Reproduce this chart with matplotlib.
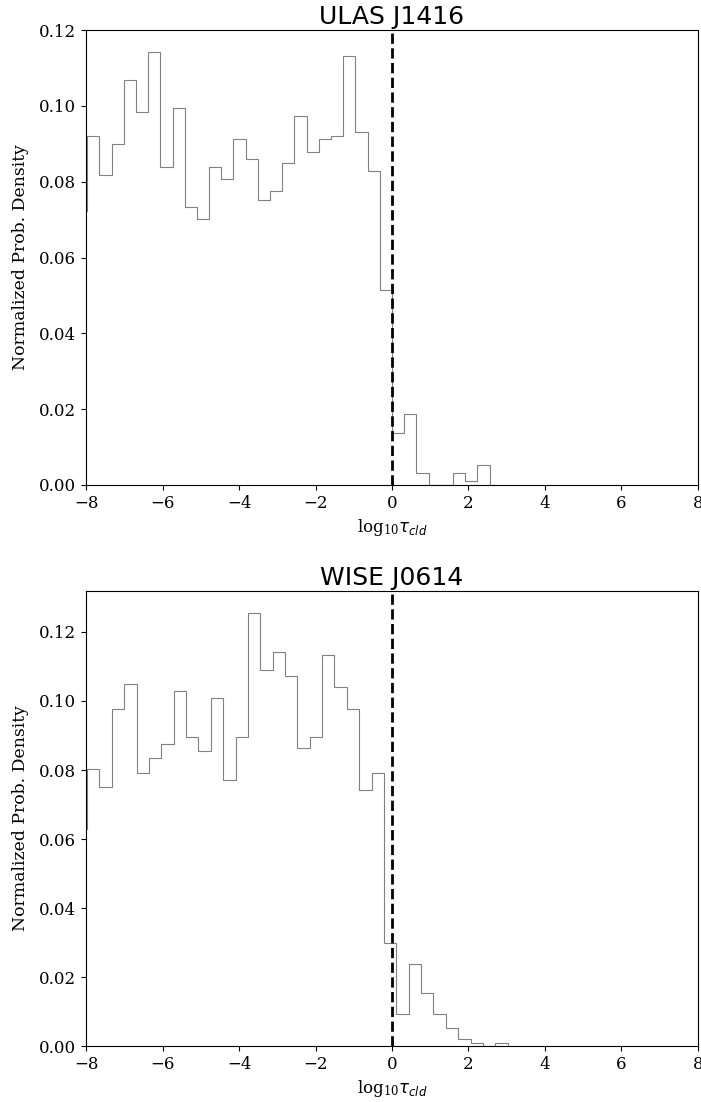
import numpy as np
import matplotlib
matplotlib.use('Agg')
import matplotlib.pyplot as plt

plt.rcParams['font.family'] = ['DejaVu Serif']

# ULAS J1416: normalized density per bin (first bin starts just left of -8)
ulas_first_edge = -8.289
ulas_bin_width = 0.3188
ulas_density = [0.0723,
                0.0921, 0.0817, 0.0900, 0.1068, 0.0985, 0.1143, 0.0839, 0.0994,
                0.0733, 0.0702, 0.0839, 0.0806, 0.0912, 0.0859, 0.0753, 0.0775,
                0.0848, 0.0973, 0.0879, 0.0913, 0.0921, 0.1131, 0.0932, 0.0827,
                0.0513,
                0.0136, 0.0187, 0.0032, 0.0, 0.0, 0.0032, 0.0011, 0.0052]

# WISE J0614
wise_first_edge = -8.297
wise_bin_width = 0.3235
wise_density = [0.0630,
                0.0803, 0.0752, 0.0978, 0.1049, 0.0792, 0.0834, 0.0875, 0.1029,
                0.0897, 0.0854, 0.1010, 0.0772, 0.0897, 0.1256, 0.1091, 0.1143,
                0.1071, 0.0865, 0.0897, 0.1132, 0.1040, 0.0978, 0.0741, 0.0792,
                0.0300,
                0.0093, 0.0239, 0.0155, 0.0093, 0.0051, 0.0020, 0.0008, 0.0, 0.0008]

objects = ['ULAS J1416', 'WISE J0614']
firsts = [ulas_first_edge, wise_first_edge]
widths = [ulas_bin_width, wise_bin_width]
densities = [ulas_density, wise_density]

fig = plt.figure(figsize=(7.01, 11.02), dpi=100)
axes = [fig.add_axes([0.1227, 0.5599, 0.8730, 0.4129]),
        fig.add_axes([0.1227, 0.0508, 0.8730, 0.4129])]

for ax, name, x0, w, dens in zip(axes, objects, firsts, widths, densities):
    dens = np.array(dens)
    edges = x0 + w * np.arange(len(dens) + 1)
    centers = 0.5 * (edges[:-1] + edges[1:])
    ax.hist(centers, bins=edges, weights=dens, histtype='step',
            color='grey', lw=0.8)
    ax.axvline(0, color='k', ls='--', lw=2)
    ax.set_xlim(-8, 8)
    ax.set_ylim(0, dens.max() * 1.05)
    ax.set_title(name, fontsize=18, family='DejaVu Sans', pad=4)
    ax.set_ylabel('Normalized Prob. Density', fontsize=12.4, labelpad=7)
    ax.set_xlabel(r'$\mathregular{log_{10}}\tau_{cld}$', fontsize=12)
    ax.tick_params(labelsize=12)

plt.savefig('out.png', dpi=100)
